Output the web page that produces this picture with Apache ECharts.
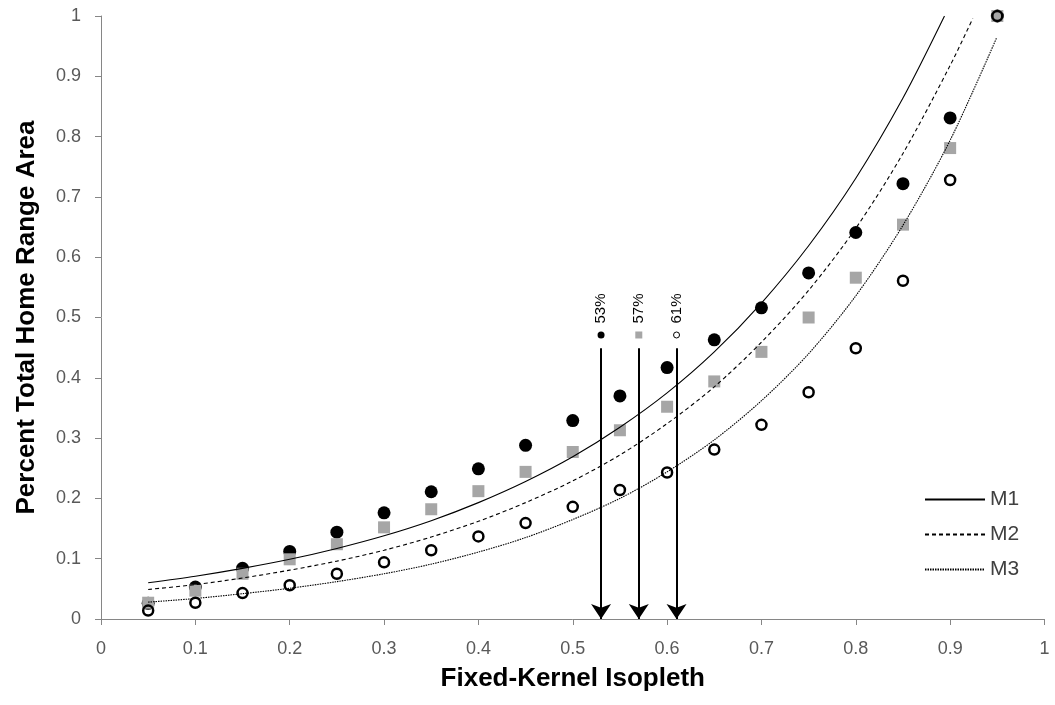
<!DOCTYPE html>
<html>
<head>
<meta charset="utf-8">
<script src="https://cdn.jsdelivr.net/npm/echarts@6/dist/echarts.min.js"></script>
<style>
  html, body { margin: 0; padding: 0; background: #fff; }
  #chart { width: 1055px; height: 705px; }
</style>
</head>
<body>
<div id="chart"></div>
<script>
// observed points (x = isopleth)
const ptX = [0.05, 0.1, 0.15, 0.2, 0.25, 0.3, 0.35, 0.4, 0.45, 0.5, 0.55, 0.6, 0.65, 0.7, 0.75, 0.8, 0.85, 0.9, 0.95];
const m1Pts = [0.026, 0.053, 0.084, 0.112, 0.144, 0.176, 0.211, 0.249, 0.288, 0.329, 0.370, 0.417, 0.463, 0.516, 0.574, 0.641, 0.722, 0.831, 1.0];
const m2Pts = [0.027, 0.047, 0.075, 0.099, 0.124, 0.152, 0.182, 0.212, 0.244, 0.277, 0.313, 0.352, 0.394, 0.443, 0.500, 0.566, 0.654, 0.781, 1.0];
const m3Pts = [0.014, 0.027, 0.043, 0.056, 0.075, 0.094, 0.114, 0.137, 0.159, 0.186, 0.214, 0.243, 0.281, 0.322, 0.376, 0.449, 0.561, 0.728, 1.0];

// fitted curves
const m1CurveX = [0.05, 0.1, 0.15, 0.2, 0.25, 0.3, 0.35, 0.4, 0.45, 0.5, 0.55, 0.6, 0.65, 0.7, 0.75, 0.8, 0.85, 0.894];
const m1Curve = [0.060, 0.071, 0.084, 0.099, 0.117, 0.138, 0.163, 0.193, 0.228, 0.269, 0.318, 0.375, 0.443, 0.524, 0.619, 0.731, 0.864, 1.0];
const m2CurveX = [0.05, 0.1, 0.15, 0.2, 0.25, 0.3, 0.35, 0.4, 0.45, 0.5, 0.55, 0.6, 0.65, 0.7, 0.75, 0.8, 0.85, 0.9, 0.924];
const m2Curve = [0.049, 0.057, 0.068, 0.081, 0.096, 0.114, 0.136, 0.162, 0.193, 0.229, 0.272, 0.324, 0.385, 0.459, 0.545, 0.648, 0.772, 0.918, 0.996];
const m3CurveX = [0.05, 0.1, 0.15, 0.2, 0.25, 0.3, 0.35, 0.4, 0.45, 0.5, 0.55, 0.6, 0.65, 0.7, 0.75, 0.8, 0.85, 0.9, 0.949];
const m3Curve = [0.028, 0.034, 0.042, 0.051, 0.062, 0.075, 0.091, 0.111, 0.135, 0.165, 0.200, 0.244, 0.297, 0.362, 0.440, 0.536, 0.653, 0.794, 0.963];

// arrows marking the thresholds
const cutX = [0.53, 0.57, 0.61];
const cutLabels = ['53%', '57%', '61%'];
const cutTop = 0.449;
const cutMarkY = 0.471;

function pairs(xs, ys) {
  return xs.map((x, i) => [x, ys[i]]);
}

const chart = echarts.init(document.getElementById('chart'));

const axisGrey = '#868686';
const tickText = { color: '#595959', fontSize: 18, fontFamily: 'Liberation Sans' };
const titleText = { color: '#000', fontSize: 26, fontWeight: 'bold', fontFamily: 'Liberation Sans' };

const markerStyles = [
  { symbol: 'circle', symbolSize: 7, itemStyle: { color: '#000', opacity: 1 } },
  { symbol: 'rect', symbolSize: 7, itemStyle: { color: '#a6a6a6', opacity: 1 } },
  { symbol: 'circle', symbolSize: 6, itemStyle: { color: '#fff', borderColor: '#000', borderWidth: 1, opacity: 1 } }
];

const option = {
  backgroundColor: '#fff',
  animation: false,
  grid: { left: 101, right: 10.5, top: 16, bottom: 86, outerBoundsMode: 'none' },
  legend: {
    orient: 'vertical',
    left: 919,
    top: 484,
    itemWidth: 60,
    itemHeight: 14,
    itemGap: 14,
    data: ['M1', 'M2', 'M3'],
    itemStyle: { opacity: 0 },
    textStyle: { color: '#404040', fontSize: 21, fontFamily: 'Liberation Sans' }
  },
  xAxis: {
    type: 'value',
    min: 0, max: 1, interval: 0.1,
    name: 'Fixed-Kernel Isopleth',
    nameLocation: 'middle',
    nameGap: 47,
    nameTextStyle: titleText,
    splitLine: { show: false },
    axisLine: { lineStyle: { color: axisGrey, width: 1 } },
    axisTick: { show: true, length: 6, lineStyle: { color: axisGrey } },
    axisLabel: Object.assign({ margin: 21 }, tickText)
  },
  yAxis: {
    type: 'value',
    min: 0, max: 1, interval: 0.1,
    name: 'Percent Total Home Range Area',
    nameLocation: 'middle',
    nameGap: 61,
    nameTextStyle: titleText,
    splitLine: { show: false },
    axisLine: { show: true, lineStyle: { color: axisGrey, width: 1 } },
    axisTick: { show: true, length: 6, lineStyle: { color: axisGrey } },
    axisLabel: Object.assign({ margin: 20 }, tickText)
  },
  series: [
    {
      name: 'M1', type: 'line', smooth: 0.3, symbol: 'none',
      lineStyle: { color: '#000', width: 1.1, type: 'solid' },
      itemStyle: { color: '#000' },
      data: pairs(m1CurveX, m1Curve)
    },
    {
      name: 'M2', type: 'line', smooth: 0.3, symbol: 'none',
      lineStyle: { color: '#000', width: 1.1, type: [4, 3] },
      itemStyle: { color: '#000' },
      data: pairs(m2CurveX, m2Curve)
    },
    {
      name: 'M3', type: 'line', smooth: 0.3, symbol: 'none',
      lineStyle: { color: '#000', width: 1.1, type: [1.5, 1] },
      itemStyle: { color: '#000' },
      data: pairs(m3CurveX, m3Curve)
    },
    {
      name: 'M1 pts', type: 'scatter', symbol: 'circle', symbolSize: 13,
      itemStyle: { color: '#000', opacity: 1 },
      data: pairs(ptX, m1Pts)
    },
    {
      name: 'M2 pts', type: 'scatter', symbol: 'rect', symbolSize: 12,
      itemStyle: { color: '#a6a6a6', opacity: 1 },
      data: pairs(ptX, m2Pts)
    },
    {
      name: 'M3 pts', type: 'scatter', symbol: 'circle', symbolSize: 10,
      itemStyle: { color: 'rgba(0,0,0,0)', borderColor: '#000', borderWidth: 2.5, opacity: 1 },
      data: pairs(ptX, m3Pts)
    },
    {
      name: 'cuts', type: 'scatter', silent: true, z: 5,
      data: cutX.map((x, i) => Object.assign({
        value: [x, cutMarkY],
        label: {
          show: true,
          formatter: cutLabels[i],
          position: 'top',
          distance: 8,
          rotate: 90,
          align: 'left',
          verticalAlign: 'middle',
          color: '#000',
          fontSize: 15,
          fontFamily: 'Liberation Sans'
        }
      }, markerStyles[i])),
      markLine: {
        silent: true,
        symbol: ['none', 'arrow'],
        symbolSize: 15,
        label: { show: false },
        lineStyle: { color: '#000', width: 2, type: 'solid' },
        itemStyle: { color: '#000' },
        data: cutX.map(x => [{ coord: [x, cutTop] }, { coord: [x, 0] }])
      }
    }
  ]
};

chart.setOption(option);
</script>
</body>
</html>
